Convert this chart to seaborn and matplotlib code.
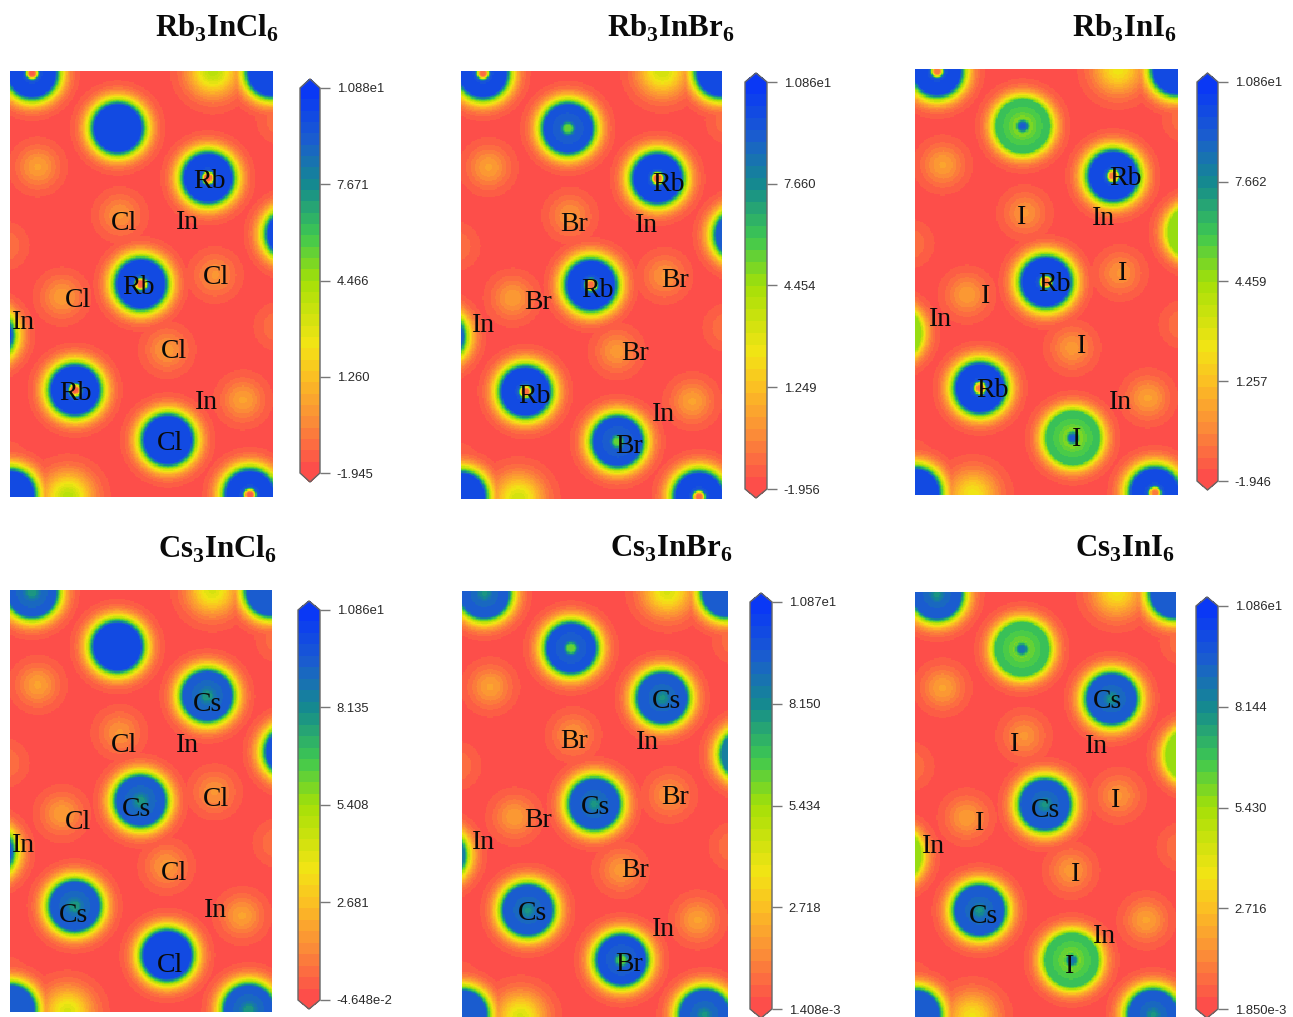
import numpy as np
import seaborn as sns
import matplotlib
matplotlib.use("Agg")
import matplotlib.pyplot as plt
from matplotlib.colors import LinearSegmentedColormap

W, H = 1293, 1017

# panel names, colorbar ticks
formulas = [("Rb", "Cl"), ("Rb", "Br"), ("Rb", "I"), ("Cs", "Cl"), ("Cs", "Br"), ("Cs", "I")]
tick_values = [
    [10.88, 7.671, 4.466, 1.260, -1.945],
    [10.86, 7.660, 4.454, 1.249, -1.956],
    [10.86, 7.662, 4.459, 1.257, -1.946],
    [10.86, 8.135, 5.408, 2.681, -0.04648],
    [10.87, 8.150, 5.434, 2.718, 0.001408],
    [10.86, 8.144, 5.430, 2.716, 0.001850],
]
tick_labels = [
    ["1.088e1", "7.671", "4.466", "1.260", "-1.945"],
    ["1.086e1", "7.660", "4.454", "1.249", "-1.956"],
    ["1.086e1", "7.662", "4.459", "1.257", "-1.946"],
    ["1.086e1", "8.135", "5.408", "2.681", "-4.648e-2"],
    ["1.087e1", "8.150", "5.434", "2.718", "1.408e-3"],
    ["1.086e1", "8.144", "5.430", "2.716", "1.850e-3"],
]

# peak sites, as fractions of the map
cation_x = [0.084, 0.753, 0.498, 0.247, 0.912]
cation_y = [0.005, 0.251, 0.500, 0.749, 0.995]
corner_x = [0.996, 0.000]
corner_y = [0.002, 0.995]
halide_x = [0.410, 0.600]
halide_y = [0.134, 0.866]
edge_x = [1.07, -0.085]
edge_y = [0.383, 0.620]
top_x = [0.772, 0.220]
top_y = [0.000, 1.000]
small_x = [0.106, 0.418, 0.780, 0.198, 0.597, 0.886, 1.03, -0.02, 1.02, -0.02]
small_y = [0.225, 0.338, 0.479, 0.530, 0.655, 0.772, 0.115, 0.410, 0.600, 0.925]
small_amp = [0.17, 0.14, 0.14, 0.16, 0.15, 0.17, 0.08, 0.08, 0.08, 0.08]

# peak levels per panel (0 = bottom of the scale, 1 = top)
cation_top = [0.90, 0.90, 0.90, 0.86, 0.86, 0.86]
cation_dip = [0.00, 0.00, 0.00, 0.08, 0.06, 0.06]
cation_core = [0.03, 0.06, 0.08, 0.70, 0.72, 0.72]
halide_top = [0.91, 0.88, 0.62, 0.91, 0.88, 0.62]
halide_dip = [0.00, 0.04, 0.14, 0.00, 0.04, 0.12]
halide_core = [0.91, 0.55, 0.85, 0.91, 0.55, 0.80]
edge_top = [0.90, 0.86, 0.50, 0.88, 0.78, 0.50]
top_amp = [0.45, 0.40, 0.33, 0.38, 0.38, 0.32]
base_level = 0.012

# labels on the maps: text, x px, y px
labels = [
    [("Rb", 209, 179), ("Cl", 123, 221), ("In", 187, 220), ("Rb", 138, 285), ("Cl", 215, 275), ("Cl", 78, 298),
     ("In", 23, 320), ("Cl", 174, 349), ("Rb", 75, 391), ("In", 206, 400), ("Cl", 169, 441)],
    [("Rb", 668, 182), ("Br", 574, 222), ("In", 646, 223), ("Rb", 597, 288), ("Br", 675, 278), ("Br", 538, 300),
     ("In", 483, 323), ("Br", 635, 351), ("Rb", 534, 394), ("In", 663, 412), ("Br", 629, 444)],
    [("Rb", 1125, 176), ("I", 1021, 215), ("In", 1103, 216), ("Rb", 1054, 282), ("I", 1122, 271), ("I", 985, 294),
     ("In", 940, 317), ("I", 1081, 344), ("Rb", 992, 388), ("In", 1120, 400), ("I", 1076, 437)],
    [("Cs", 207, 702), ("Cl", 123, 743), ("In", 187, 743), ("Cs", 136, 807), ("Cl", 215, 797), ("Cl", 78, 820),
     ("In", 23, 843), ("Cl", 174, 871), ("Cs", 73, 913), ("In", 215, 908), ("Cl", 169, 963)],
    [("Cs", 666, 699), ("Br", 574, 739), ("In", 647, 740), ("Cs", 595, 805), ("Br", 675, 795), ("Br", 538, 818),
     ("In", 483, 840), ("Br", 635, 868), ("Cs", 532, 911), ("In", 663, 927), ("Br", 629, 962)],
    [("Cs", 1107, 699), ("I", 1014, 742), ("In", 1096, 744), ("Cs", 1045, 808), ("I", 1115, 798), ("I", 979, 821),
     ("In", 933, 844), ("I", 1075, 872), ("Cs", 983, 914), ("In", 1104, 934), ("I", 1069, 964)],
]

# layout in px: map left, top, right, bottom / colorbar left, right / title centre
map_boxes = [(10, 71, 273, 497), (461, 71, 722, 499), (915, 69, 1178, 495),
             (10, 590, 272, 1012), (462, 591, 728, 1017), (915, 592, 1176, 1017)]
bar_x = [(300, 320), (745, 767), (1197, 1218), (298, 320), (750, 772), (1196, 1218)]
bar_y = [(88, 473), (82, 489), (82, 481), (610, 1000), (602, 1009), (606, 1009)]
title_pos = [(217, 26), (671, 26), (1125, 26), (217, 547), (671, 547), (1125, 547)]

sns.set_theme(style="white")
plt.rcParams["font.family"] = ["Liberation Serif", "DejaVu Serif"]
plt.rcParams["mathtext.fontset"] = "custom"
plt.rcParams["mathtext.rm"] = "Liberation Serif"
plt.rcParams["mathtext.bf"] = "Liberation Serif:bold"

color_stops = [(0.00, "#fd4e4a"), (0.12, "#fb8a38"), (0.25, "#fbc322"), (0.33, "#f2e414"),
               (0.50, "#a4e008"), (0.62, "#3ec850"), (0.75, "#158c8c"), (0.88, "#1a5cd0"), (1.00, "#0a38f5")]
cmap = LinearSegmentedColormap.from_list("edf", color_stops, N=34)
cmap = cmap.with_extremes(over="#0a38f5", under="#fd4e4a")


def ring_field(X, Y, xs, ys, w, h, tops, dip, cores, amp=3.1, s=21.0, core_r=6.0):
    out = np.zeros_like(X)
    for x0, y0 in zip(xs, ys):
        r2 = ((X - x0) * w) ** 2 + ((Y - y0) * h) ** 2
        cap = tops - dip * np.exp(-r2 / 13.0 ** 2)
        cap = cap + (cores - cap) * np.exp(-(r2 / core_r ** 2) ** 2)
        out = np.maximum(out, np.minimum(amp * np.exp(-r2 / s ** 2), cap))
    return out


def build_field(i, w, h):
    nx, ny = int(w / 1.25), int(h / 1.25)
    X, Y = np.meshgrid((np.arange(nx) + 0.5) / nx, (np.arange(ny) + 0.5) / ny)
    f = ring_field(X, Y, cation_x, cation_y, w, h, cation_top[i], cation_dip[i], cation_core[i])
    f = np.maximum(f, ring_field(X, Y, corner_x, corner_y, w, h, cation_top[i], 0.0, cation_top[i]))
    f = np.maximum(f, ring_field(X, Y, halide_x, halide_y, w, h, halide_top[i], halide_dip[i], halide_core[i]))
    f = np.maximum(f, ring_field(X, Y, edge_x, edge_y, w, h, edge_top[i], 0.0, edge_top[i]))
    soft = np.zeros_like(X)
    for x0, y0, a in zip(small_x, small_y, small_amp):
        soft += a * np.exp(-(((X - x0) * w) ** 2 + ((Y - y0) * h) ** 2) / 20.0 ** 2)
    for x0, y0 in zip(top_x, top_y):
        soft += top_amp[i] * np.exp(-(((X - x0) * w) ** 2 + ((Y - y0) * h) ** 2) / 24.0 ** 2)
    return np.maximum(f, soft) + base_level


fig = plt.figure(figsize=(W / 100, H / 100), dpi=100)

for i in range(6):
    left, top, right, bottom = map_boxes[i]
    ax = fig.add_axes([left / W, 1 - bottom / H, (right - left) / W, (bottom - top) / H])
    vmax, vmin = tick_values[i][0], tick_values[i][-1]
    field = vmin + build_field(i, right - left, bottom - top) * (vmax - vmin)
    sns.heatmap(field, ax=ax, cmap=cmap, vmin=vmin, vmax=vmax, cbar=False,
                xticklabels=False, yticklabels=False)

    # colorbar with pointed ends, the points live inside cax
    bx0, bx1 = bar_x[i]
    by0, by1 = bar_y[i]
    tip = 9
    cax = fig.add_axes([bx0 / W, 1 - (by1 + tip) / H, (bx1 - bx0) / W, (by1 - by0 + 2 * tip) / H])
    cb = fig.colorbar(ax.collections[0], cax=cax, extend="both", extendfrac=tip / (by1 - by0))
    cb.set_ticks(tick_values[i])
    cb.set_ticklabels(tick_labels[i], family="Liberation Sans", fontsize=9.4, color="#2a2a2a")
    cb.outline.set_edgecolor("#666666")
    cb.outline.set_linewidth(1.0)
    cax.tick_params(axis="y", length=7, width=1, color="#777777", pad=5, right=True)
    cax.minorticks_off()

    cation, halide = formulas[i]
    tx, ty = title_pos[i]
    fig.text(tx / W, 1 - (ty + 2) / H, cation + r"$_{\mathbf{3}}$" + "In" + halide + r"$_{\mathbf{6}}$",
             ha="center", va="center", fontsize=22.2, fontweight="bold", color="#0a0a0a")

    for name, lx, ly in labels[i]:
        fig.text((lx + 0.5) / W, 1 - (ly + 2.5) / H, name, ha="center", va="center", fontsize=20, color="#0a0a0a")

fig.savefig("out.png", dpi=100, facecolor="white")
plt.close(fig)
